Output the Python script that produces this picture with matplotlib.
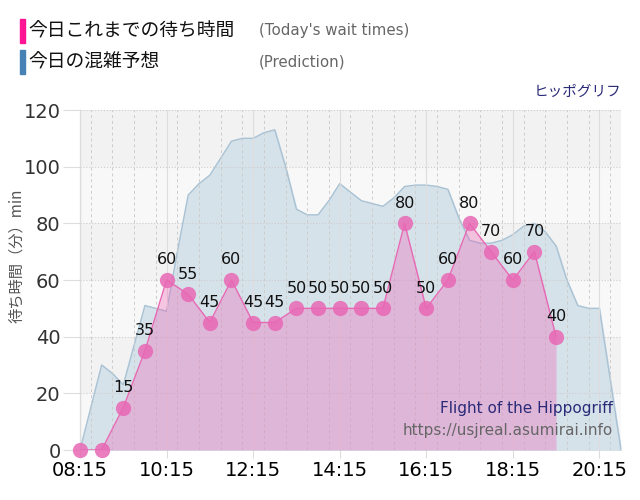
import matplotlib.pyplot as plt
from matplotlib.ticker import FixedLocator, MultipleLocator

plt.rcParams['font.family'] = ['DejaVu Sans', 'Noto Sans CJK JP']

# 実績 (30分ごと)
wait_times = ['08:15', '08:45', '09:15', '09:45', '10:15', '10:45', '11:15', '11:45',
              '12:15', '12:45', '13:15', '13:45', '14:15', '14:45', '15:15', '15:45',
              '16:15', '16:45', '17:15', '17:45', '18:15', '18:45', '19:15']
wait_values = [0, 0, 15, 35, 60, 55, 45, 60, 45, 45, 50, 50, 50, 50, 50, 80,
               50, 60, 80, 70, 60, 70, 40]

# 予想 (15分ごと)
pred_times = ['08:15', '08:30', '08:45', '09:00', '09:15', '09:30', '09:45', '10:00',
              '10:15', '10:30', '10:45', '11:00', '11:15', '11:30', '11:45', '12:00',
              '12:15', '12:30', '12:45', '13:00', '13:15', '13:30', '13:45', '14:00',
              '14:15', '14:30', '14:45', '15:00', '15:15', '15:30', '15:45', '16:00',
              '16:15', '16:30', '16:45', '17:00', '17:15', '17:30', '17:45', '18:00',
              '18:15', '18:30', '18:45', '19:00', '19:15', '19:30', '19:45', '20:00',
              '20:15', '20:30', '20:45']
pred_values = [0, 15, 30, 27, 23, 37, 51, 50, 49, 70, 90, 94, 97, 103, 109, 110,
               110, 112, 113, 100, 85, 83, 83, 88, 94, 91, 88, 87, 86, 89, 93, 93.5,
               93.5, 93, 92, 82, 74, 73, 73, 74, 76, 79, 80, 77, 72, 60, 51, 50,
               50, 25, 0]

x_ticks = ['08:15', '10:15', '12:15', '14:15', '16:15', '18:15', '20:15']
y_ticks = [0, 20, 40, 60, 80, 100, 120]


def to_min(t):
    h, m = t.split(':')
    return int(h) * 60 + int(m)


wx = [to_min(t) for t in wait_times]
px = [to_min(t) for t in pred_times]

fig = plt.figure(figsize=(6.4, 5), dpi=100)
ax = fig.add_axes([0.125, 0.1, 0.8453, 0.68])

ax.set_xlim(to_min('08:15'), to_min('20:45'))
ax.set_ylim(0, 120)

# 背景の帯
for i, lo in enumerate(range(0, 120, 20)):
    ax.axhspan(lo, lo + 20, color='#f2f2f2' if i % 2 else '#f8f8f8', zorder=0, lw=0)

# 予想
ax.fill_between(px, pred_values, color='#d6e2ea', zorder=1)
ax.plot(px, pred_values, color='#a9c2d4', lw=1, zorder=2)

# 実績
ax.fill_between(wx, wait_values, color='#f05cb4', alpha=0.32, lw=0, zorder=3)
ax.plot(wx, wait_values, color='#e868b4', lw=1, zorder=4)
ax.plot(wx, wait_values, 'o', color='#e868b4', ms=11, alpha=0.85, mec='none',
        zorder=5, clip_on=False)

for x, v in zip(wx, wait_values):
    if v > 0:
        ax.annotate(str(v), (x, v), xytext=(0, 9), textcoords='offset points',
                    ha='center', va='bottom', fontsize=11.5, color='#111111', zorder=6)

# 軸
ax.xaxis.set_major_locator(FixedLocator([to_min(t) for t in x_ticks]))
ax.set_xticklabels(x_ticks, fontsize=14)
ax.xaxis.set_minor_locator(MultipleLocator(30))
ax.set_yticks(y_ticks)
ax.set_yticklabels([str(v) for v in y_ticks], fontsize=14, color='#333333')
ax.tick_params(axis='x', which='major', length=6, color='#dddddd', pad=2)
ax.tick_params(axis='x', which='minor', length=0)
ax.tick_params(axis='y', length=12, color='#dddddd', pad=2)

ax.grid(axis='y', color='#cccccc', ls=':', lw=0.8, zorder=1.5)
ax.grid(axis='x', which='minor', color='#cccccc', ls=(0, (3, 3)), lw=0.7, zorder=1.5)
ax.grid(axis='x', which='major', color='#dddddd', ls='-', lw=0.8, zorder=1.5)
ax.set_axisbelow(False)

for s in ['top', 'right', 'bottom']:
    ax.spines[s].set_visible(False)
ax.spines['left'].set_color('#999999')

ax.set_ylabel('待ち時間（分）min', family=['Noto Sans CJK JP', 'DejaVu Sans'],
              fontsize=11, color='#555555')
ax.yaxis.set_label_coords(-0.102, 0.57)

ax.text(0.985, 0.1, 'Flight of the Hippogriff', transform=ax.transAxes,
        ha='right', va='bottom', fontsize=11, color='#2a2a78', zorder=7)
ax.text(0.985, 0.035, 'https://usjreal.asumirai.info', transform=ax.transAxes,
        ha='right', va='bottom', fontsize=11, color='#666666', zorder=7)

# 凡例
fig.patches.append(plt.Rectangle((20 / 640, 1 - 43 / 500), 5 / 640, 24 / 500,
                                 transform=fig.transFigure, color='#ff1493'))
fig.patches.append(plt.Rectangle((20 / 640, 1 - 74 / 500), 5 / 640, 24 / 500,
                                 transform=fig.transFigure, color='#4682b4'))
fig.text(28 / 640, 1 - 31 / 500, '今日これまでの待ち時間', family=['Noto Sans CJK JP'],
         fontsize=13.5, va='center', color='#111111')
fig.text(28 / 640, 1 - 62 / 500, '今日の混雑予想', family=['Noto Sans CJK JP'],
         fontsize=13.5, va='center', color='#111111')
fig.text(259 / 640, 1 - 31 / 500, "(Today's wait times)", fontsize=10.8,
         va='center', color='#666666')
fig.text(259 / 640, 1 - 62 / 500, '(Prediction)', fontsize=10.8,
         va='center', color='#666666')
fig.text(621 / 640, 1 - 92 / 500, 'ヒッポグリフ', family=['Noto Sans CJK JP'],
         fontsize=10.5, ha='right', va='center', color='#2a2a78')

plt.savefig('out.png')
plt.close()
